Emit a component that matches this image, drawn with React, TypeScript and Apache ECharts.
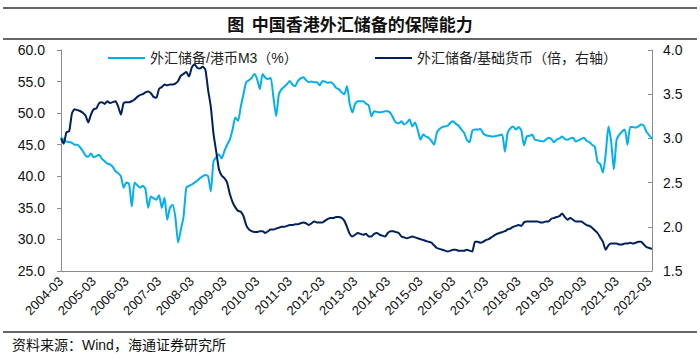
import { useEffect, useRef } from "react";
import * as echarts from "echarts";

const START_YEAR = 2004;
const START_MONTH = 3;

// 外汇储备/港币M3（%）, monthly from 2004-03
const m3Ratio = [
  46.2, 45.8, 45.5, 45.4, 45.3, 45.0, 45.0, 44.6, 44.0, 43.3, 43.1, 43.6,
  43.0, 43.2, 43.4, 42.8, 42.4, 42.0, 41.9, 41.5, 40.8, 40.5, 40.0, 38.2,
  39.0, 38.8, 35.2, 39.0, 38.6, 38.2, 38.5, 38.0, 35.0, 36.8, 36.5, 36.3,
  37.0, 35.0, 36.6, 33.1, 35.0, 35.5, 33.5, 29.5, 31.5, 33.6, 38.2, 38.5,
  38.7, 39.0, 39.3, 39.7, 40.0, 40.2, 40.0, 37.6, 42.4, 43.0, 43.5, 42.8,
  44.0, 45.0, 45.8, 47.4, 49.3, 48.8, 51.0, 53.0, 54.9, 55.2, 55.6, 56.2,
  55.4, 53.8, 56.2, 55.6, 55.4, 55.6, 52.5, 49.5, 53.0, 53.8, 54.2, 54.6,
  55.1, 54.5, 54.3, 55.1, 55.5, 55.7, 55.2, 54.9, 55.0, 54.9, 54.9, 54.4,
  55.1, 55.0, 54.8, 54.9, 54.6, 54.0, 53.8, 53.3, 53.0, 54.3, 51.5, 50.1,
  51.5, 51.9, 51.9, 51.9, 51.5, 51.2, 49.5, 50.3, 50.2, 50.1, 50.2, 50.3,
  50.3, 50.0, 49.2, 48.5, 48.4, 48.7, 48.2, 48.5, 49.0, 47.9, 48.5, 47.3,
  45.8, 46.6, 46.3, 46.1, 45.6, 45.0, 46.9, 47.5, 47.8, 47.9, 48.0, 48.5,
  48.7, 48.3, 48.0, 47.4, 46.9, 45.8, 45.4, 47.2, 47.4, 47.4, 47.5, 46.8,
  46.5, 46.4, 46.3, 46.3, 46.4, 46.5, 46.6, 43.9, 46.9, 47.6, 47.9, 47.4,
  47.8, 47.3, 44.9, 46.3, 46.4, 46.6, 45.8, 45.7, 45.6, 45.5, 45.8, 46.1,
  45.9, 45.4, 45.8, 46.0, 46.3, 45.9, 45.8, 46.0, 46.1, 45.5, 45.7, 45.9,
  46.1, 45.6, 45.4, 45.0, 44.7, 42.3, 41.9, 40.6, 43.5, 47.9, 45.5, 41.1,
  45.8, 46.6, 47.1, 47.4, 45.0, 47.8, 47.8, 47.7, 47.9, 48.2, 48.0, 47.0,
  46.5, 45.9,
];

// 外汇储备/基础货币（倍，右轴）, monthly from 2004-03
const baseRatio = [
  3.00, 2.94, 3.07, 3.08, 3.28, 3.33, 3.32, 3.31, 3.29, 3.26, 3.18, 3.27,
  3.33, 3.34, 3.40, 3.41, 3.39, 3.42, 3.40, 3.41, 3.42, 3.36, 3.27, 3.40,
  3.41, 3.41, 3.42, 3.44, 3.47, 3.49, 3.50, 3.52, 3.53, 3.51, 3.47, 3.46,
  3.56, 3.58, 3.61, 3.60, 3.61, 3.61, 3.62, 3.65, 3.71, 3.73, 3.75, 3.70,
  3.80, 3.84, 3.80, 3.79, 3.81, 3.78, 3.55, 3.36, 3.05, 2.85, 2.65, 2.58,
  2.55, 2.50, 2.37, 2.28, 2.22, 2.18, 2.17, 2.12, 2.02, 1.97, 1.95, 1.94,
  1.94, 1.95, 1.95, 1.93, 1.95, 1.97, 1.97, 1.98, 1.99, 2.00, 2.00, 2.01,
  2.02, 2.02, 2.03, 2.03, 2.04, 2.05, 2.04, 2.02, 2.04, 2.06, 2.05, 2.05,
  2.05, 2.07, 2.09, 2.10, 2.10, 2.11, 2.11, 2.10, 2.07, 2.00, 1.92, 1.89,
  1.91, 1.93, 1.92, 1.91, 1.92, 1.89, 1.89, 1.92, 1.93, 1.91, 1.90, 1.89,
  1.93, 1.95, 1.95, 1.94, 1.93, 1.89, 1.88, 1.87, 1.88, 1.89, 1.88, 1.87,
  1.86, 1.85, 1.84, 1.83, 1.82, 1.79, 1.76, 1.75, 1.74, 1.73, 1.72, 1.73,
  1.74, 1.74, 1.73, 1.73, 1.73, 1.74, 1.73, 1.72, 1.83, 1.83, 1.82, 1.83,
  1.85, 1.86, 1.88, 1.90, 1.92, 1.93, 1.94, 1.95, 1.97, 1.98, 2.00, 2.01,
  2.02, 2.01, 2.05, 2.06, 2.06, 2.06, 2.06, 2.06, 2.05, 2.05, 2.06, 2.06,
  2.09, 2.10, 2.11, 2.12, 2.15, 2.11, 2.08, 2.10, 2.08, 2.06, 2.06, 2.06,
  2.04, 2.02, 2.01, 1.99, 1.96, 1.93, 1.88, 1.83, 1.74, 1.79, 1.81, 1.81,
  1.81, 1.80, 1.80, 1.81, 1.81, 1.82, 1.81, 1.82, 1.83, 1.83, 1.80, 1.77,
  1.76, 1.75,
];

const categories: string[] = m3Ratio.map((_, i) => {
  const total = START_MONTH - 1 + i;
  const y = START_YEAR + Math.floor(total / 12);
  const m = (total % 12) + 1;
  return `${y}-${m < 10 ? "0" + m : m}`;
});

const SERIES_M3 = "外汇储备/港币M3（%）";
const SERIES_BASE = "外汇储备/基础货币（倍，右轴）";
const TITLE = "图  中国香港外汇储备的保障能力";
const SOURCE = "资料来源：Wind，海通证券研究所";

const leftAxisRange = { min: 25, max: 60, interval: 5 };
const rightAxisRange = { min: 1.5, max: 4, interval: 0.5 };

const FONT = "'Liberation Sans', 'Noto Sans CJK SC', sans-serif";
const AXIS_GREY = "#8c8c8c";
const LIGHT_BLUE = "#00b0f0";
const NAVY = "#002060";

export default function App() {
  const ref = useRef<HTMLDivElement>(null);

  useEffect(() => {
    if (!ref.current) return;
    const chart = echarts.init(ref.current, undefined, { renderer: "svg" });
    chart.setOption({
      animation: false,
      backgroundColor: "#ffffff",
      textStyle: { fontFamily: FONT },
      grid: { left: 61, right: 48, top: 50, bottom: 91 },
      legend: [
        {
          data: [SERIES_M3],
          left: 103,
          top: 46,
          icon: "rect",
          itemWidth: 37,
          itemHeight: 2,
          itemGap: 4,
          textStyle: { fontSize: 14, color: "#222", fontFamily: FONT },
        },
        {
          data: [SERIES_BASE],
          left: 370,
          top: 46,
          icon: "rect",
          itemWidth: 37,
          itemHeight: 2,
          textStyle: { fontSize: 14, color: "#222", fontFamily: FONT },
        },
      ],
      xAxis: {
        type: "category",
        data: categories,
        boundaryGap: false,
        axisLine: { lineStyle: { color: AXIS_GREY, width: 1 } },
        axisTick: { show: false },
        axisLabel: {
          interval: 11,
          rotate: 45,
          fontSize: 13,
          color: "#111",
          margin: 8,
          fontFamily: FONT,
        },
        splitLine: { show: false },
      },
      yAxis: [
        {
          type: "value",
          min: leftAxisRange.min,
          max: leftAxisRange.max,
          interval: leftAxisRange.interval,
          axisLine: { show: true, lineStyle: { color: AXIS_GREY, width: 1 } },
          axisTick: { show: true, length: 4, lineStyle: { color: AXIS_GREY } },
          axisLabel: {
            formatter: (v: number) => v.toFixed(1),
            fontSize: 14,
            color: "#111",
            margin: 16,
            fontFamily: FONT,
          },
          splitLine: { show: false },
        },
        {
          type: "value",
          position: "right",
          min: rightAxisRange.min,
          max: rightAxisRange.max,
          interval: rightAxisRange.interval,
          axisLine: { show: true, lineStyle: { color: AXIS_GREY, width: 1 } },
          axisTick: { show: true, inside: true, length: 4, lineStyle: { color: AXIS_GREY } },
          axisLabel: {
            formatter: (v: number) => v.toFixed(1),
            fontSize: 14,
            color: "#111",
            margin: 11,
            fontFamily: FONT,
          },
          splitLine: { show: false },
        },
      ],
      series: [
        {
          name: SERIES_M3,
          type: "line",
          yAxisIndex: 0,
          data: m3Ratio,
          showSymbol: false,
          smooth: 0.2,
          color: LIGHT_BLUE,
          lineStyle: { width: 2, color: LIGHT_BLUE },
        },
        {
          name: SERIES_BASE,
          type: "line",
          yAxisIndex: 1,
          data: baseRatio,
          showSymbol: false,
          smooth: 0.2,
          color: NAVY,
          lineStyle: { width: 2, color: NAVY },
        },
      ],
      graphic: [
        {
          type: "line",
          shape: { x1: 3, y1: 8, x2: 697, y2: 8 },
          style: { stroke: "#333", lineWidth: 1.5 },
        },
        {
          type: "line",
          shape: { x1: 3, y1: 39, x2: 697, y2: 39 },
          style: { stroke: "#333", lineWidth: 1.5 },
        },
        {
          type: "text",
          x: 350,
          y: 23,
          style: {
            text: TITLE,
            fontSize: 17,
            fontWeight: "bold",
            fontFamily: "'Noto Sans CJK SC', sans-serif",
            fill: "#111",
            align: "center",
            verticalAlign: "middle",
          },
        },
        {
          type: "line",
          shape: { x1: 3, y1: 332, x2: 697, y2: 332 },
          style: { stroke: "#333", lineWidth: 1.5 },
        },
        {
          type: "text",
          x: 12,
          y: 345,
          style: {
            text: SOURCE,
            fontSize: 14,
            fontFamily: FONT,
            fill: "#111",
            align: "left",
            verticalAlign: "middle",
          },
        },
      ],
    });
    return () => chart.dispose();
  }, []);

  return (
    <div
      ref={ref}
      style={{ position: "fixed", left: 0, top: 0, width: 700, height: 362 }}
    />
  );
}
